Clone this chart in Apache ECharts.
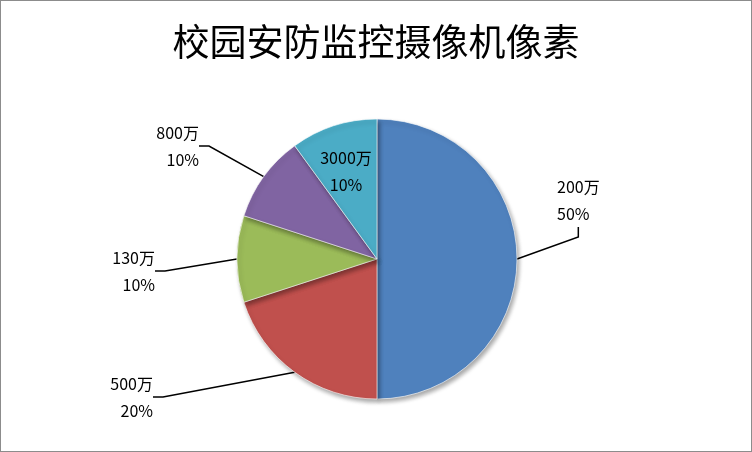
<!DOCTYPE html>
<html><head><meta charset="utf-8">
<script src="https://cdn.jsdelivr.net/npm/echarts@6/dist/echarts.min.js"></script>
<style>html,body{margin:0;padding:0;background:#fff}#c{width:750px;height:450px;border:1px solid #8c8c8c}</style>
</head><body><div id="c"></div>
<script>
const categories=['200万','500万','130万','800万','3000万'];
const values=[50,20,10,10,10];
const colors=['#4F81BD','#C0504D','#9BBB59','#8064A2','#4BACC6'];
const labelPos=[[556,199,'left'],[152,396,'right'],[154,270,'right'],[198,145,'right'],[345,170,'center']];
const chart=echarts.init(document.getElementById('c'));
chart.setOption({
  animation:false,
  title:{text:'校园安防监控摄像机像素',left:'center',top:17,textStyle:{fontFamily:'Noto Sans CJK SC',fontWeight:'normal',fontSize:37,color:'#000'}},
  series:[{
    type:'pie',center:[376,258],radius:140,startAngle:90,clockwise:true,
    itemStyle:{borderColor:'rgba(255,255,255,0.6)',borderWidth:1,shadowBlur:4,shadowOffsetX:2,shadowOffsetY:3,shadowColor:'rgba(0,0,0,0.35)'},
    label:{formatter:'{b}\n{d}%',fontSize:16,lineHeight:27,color:'#000',fontFamily:'Noto Sans CJK SC'},
    labelLine:{show:true,lineStyle:{color:'#000',width:1.5},length:15,length2:10},
    labelLayout:function(p){const l=labelPos[p.dataIndex];return {x:l[0],y:l[1],align:l[2],verticalAlign:'middle'};},
    data:categories.map((c,i)=>({name:c,value:values[i],itemStyle:{color:colors[i]},
      label:i===4?{position:'inside'}:undefined,
      labelLine:i===4?{show:false}:undefined}))
  }]
});
</script></body></html>
